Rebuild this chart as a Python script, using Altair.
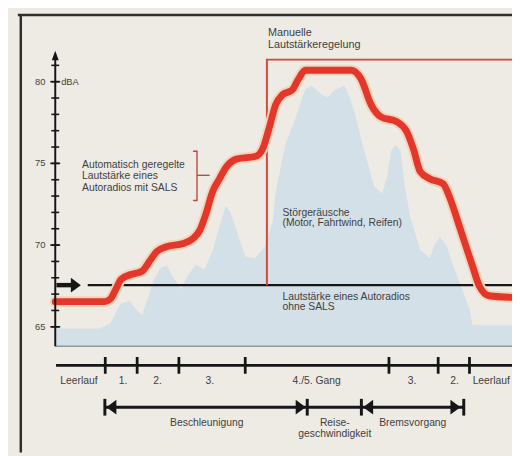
import altair as alt
import pandas as pd

# ---------------- data (time in arbitrary units, level in dBA) ----------------
sals_t = [0, 12.5, 14, 15.4, 16.7, 19.2, 22, 24.2, 25.75, 28.25, 32.5, 35, 36.7, 38.25, 40, 41.7,
          43.5, 46, 51, 52.7, 54.25, 56, 57.7, 60.2, 61.75, 63.5, 75.2, 77.7, 80.2, 82.7, 86.75,
          89.25, 91, 92.7, 95.2, 98.5, 100.2, 102.7, 106, 107.7, 110.2, 116]
sals_v = [66.54, 66.54, 66.7, 67.3, 67.9, 68.2, 68.4, 69.1, 69.6, 69.9, 70.1, 70.4, 70.9, 71.9, 73.3,
          74.05, 74.8, 75.26, 75.44, 75.9, 77.1, 78.6, 79.2, 79.5, 80.15, 80.7, 80.7, 80.15, 78.6,
          77.85, 77.55, 76.95, 75.85, 74.5, 74.05, 73.75, 72.9, 71.1, 68.7, 67.5, 66.9, 66.8]

noise_t = [0, 11, 14, 16.5, 18.75, 20.5, 22, 23.5, 25, 26.75, 28.3, 30, 32, 33.75, 35.8, 37.9, 40,
           41.75, 43.3, 44.5, 45.75, 48.25, 50.75, 53.25, 55.25, 56, 58.5, 61, 63.5, 65.2, 67.7,
           69.25, 71, 73.5, 74.75, 76, 78.5, 81, 83, 84.25, 85.25, 86.4, 87.7, 88.75, 90.2, 92.7,
           95.2, 96.25, 97.7, 99.3, 101, 102.7, 105.2, 106, 116]
noise_v = [64.9, 64.9, 65.2, 66.4, 66.6, 66.1, 65.7, 66.7, 67.9, 68.6, 68.75, 68.0, 67.3, 68.2, 68.8,
           68.5, 69.7, 71.2, 72.4, 72.0, 71.1, 69.3, 69.2, 69.9, 71.5, 73.3, 76.2, 77.75, 79.55,
           79.75, 79.2, 79.05, 79.5, 79.75, 79.05, 78.15, 75.75, 73.6, 73.15, 74.2, 75.75, 76.15,
           75.75, 73.6, 71.7, 69.7, 69.2, 70.0, 70.5, 70.0, 68.8, 67.7, 66.1, 65.1, 65.1]
noise_floor = 63.81

manual_t = [53.75, 53.75, 116]
manual_v = [67.55, 81.35, 81.35]

ohne_sals_v = 67.55
ohne_sals_start = 8.25
marker_arrow = [0.3, 6.5]          # left arrow marking the fixed radio level

t_end = 116
y_major = [65, 70, 75, 80]
y_minor = list(range(65, 82))
y_top = 81.9

gear_bounds = [12.7, 20.8, 31.4, 48.25, 84.75, 97.25, 105.2]
gear_labels = ["Leerlauf", "1.", "2.", "3.", "4./5. Gang", "3.", "2.", "Leerlauf"]
gear_label_t = [6, 17.25, 26, 39.25, 66.4, 90.6, 101.4, 106]
gear_label_align = ["center"] * 7 + ["left"]

phase_bounds = [12.6, 64, 77.75, 103.75]
phase_left_tips = [13.0, 78.2]
phase_right_tips = [63.6, 102.9]
phase_text = ["Beschleunigung", "Reise-", "geschwindigkeit", "Bremsvorgang"]
phase_text_t = [38.5, 71, 71, 90.8]
phase_text_row = [0, 0, 1, 0]

annot_text = ["Automatisch geregelte", "Lautstärke eines", "Autoradios mit SALS",
              "Störgeräusche", "(Motor, Fahrtwind, Reifen)",
              "Lautstärke eines Autoradios", "ohne SALS"]
annot_t = [6.8, 6.8, 6.8, 57.7, 57.7, 57.7, 57.7]
annot_v = [74.90, 74.20, 73.51, 71.96, 71.33, 66.81, 66.19]

manual_text = ["Manuelle", "Lautstärkeregelung"]
manual_text_t = [54, 54]
manual_text_v = [82.97, 82.25]

bracket_t = [35.0, 36.0, 36.0, 35.0]
bracket_v = [75.74, 75.74, 72.73, 72.73]
bracket_mid = [36.0, 39.2, 74.27]

# ---------------- layout ----------------
W, H = 512, 448
X0 = 48.0          # pixel of t = 0
PX_T = 4.0
Y80 = 71.3         # pixel of 80 dBA
PX_DB = 16.6
xs = alt.Scale(domain=[-X0 / PX_T, (W - X0) / PX_T], nice=False, zero=False)
ys = alt.Scale(domain=[80 - (H - Y80) / PX_DB, 80 + Y80 / PX_DB], nice=False, zero=False)

FONT = "Liberation Sans"
TXT = "#3f3f3f"
BG = "#eeebe4"
RED = "#e2372a"

def X(f="t"):
    return alt.X(f"{f}:Q", scale=xs, axis=None)

def Y(f="v"):
    return alt.Y(f"{f}:Q", scale=ys, axis=None)

one = pd.DataFrame({"a": [0]})

# frame
frame_top = alt.Chart(one).mark_rule(color="#2e2e2e", strokeWidth=2.5).encode(
    x=alt.value(10), x2=alt.value(W), y=alt.value(3.5))
frame_left = alt.Chart(one).mark_rule(color="#2e2e2e", strokeWidth=2.5).encode(
    x=alt.value(13), y=alt.value(3.5), y2=alt.value(H))

# noise
noise_df = pd.DataFrame({"t": noise_t, "v": noise_v, "b": noise_floor})
noise = alt.Chart(noise_df).mark_area(color="#d4e0e7", interpolate="linear").encode(
    x=X(), y=Y(), y2=alt.Y2("b:Q"))
floor = alt.Chart(pd.DataFrame({"t": [0], "t2": [t_end], "v": [noise_floor]})).mark_rule(
    color="#8e989e", strokeWidth=1.5).encode(x=X(), x2="t2:Q", y=Y())

# ohne SALS line and marker arrow
ohne = alt.Chart(pd.DataFrame({"t": [ohne_sals_start], "t2": [t_end], "v": [ohne_sals_v]})).mark_rule(
    color="#161616", strokeWidth=2.5).encode(x=X(), x2="t2:Q", y=Y())
arr_line = alt.Chart(pd.DataFrame({"t": [marker_arrow[0]], "t2": [marker_arrow[1] - 2],
                                   "v": [ohne_sals_v]})).mark_rule(
    color="#161616", strokeWidth=4.5).encode(x=X(), x2="t2:Q", y=Y())
RIGHT_HEAD = "M-1.35,-1L0,0L-1.35,1Z"
LEFT_HEAD = "M1.35,-1L0,0L1.35,1Z"
arr_head = alt.Chart(pd.DataFrame({"t": [marker_arrow[1]], "v": [ohne_sals_v]})).mark_point(
    shape=RIGHT_HEAD, filled=True, size=225, color="#161616", opacity=1, strokeWidth=0).encode(
    x=X(), y=Y())

# manual volume
man_df = pd.DataFrame({"t": manual_t, "v": manual_v, "i": range(len(manual_t))})
manual = alt.Chart(man_df).mark_line(color="#d8463a", strokeWidth=2).encode(
    x=X(), y=Y(), order="i:Q")

# SALS
sals_df = pd.DataFrame({"t": sals_t, "v": sals_v})
sals_halo = alt.Chart(sals_df).mark_line(color="#f6d3bb", strokeWidth=11, interpolate="monotone",
                                         strokeCap="round").encode(x=X(), y=Y())
sals = alt.Chart(sals_df).mark_line(color=RED, strokeWidth=7, interpolate="monotone",
                                    strokeCap="round").encode(x=X(), y=Y())

# y axis
axis_line = alt.Chart(pd.DataFrame({"t": [0], "v": [noise_floor], "v2": [y_top - 0.3]})).mark_rule(
    color="#161616", strokeWidth=2).encode(x=X(), y=Y(), y2="v2:Q")
axis_head = alt.Chart(pd.DataFrame({"t": [0], "v": [y_top]})).mark_point(
    shape="M-1,2.8L0,0L1,2.8Z", filled=True, size=49, color="#161616", opacity=1,
    strokeWidth=0).encode(x=X(), y=Y())
minor_df = pd.DataFrame({"t": 0, "v": y_minor})
minor_ticks = alt.Chart(minor_df).mark_rule(color="#161616", strokeWidth=1.6, xOffset=-4,
                                            x2Offset=4).encode(x=X(), x2="t:Q", y=Y())
major_df = pd.DataFrame({"t": 0, "v": y_major, "lab": [str(v) for v in y_major]})
major_ticks = alt.Chart(major_df).mark_rule(color="#161616", strokeWidth=1.6, xOffset=-5,
                                            x2Offset=5).encode(x=X(), x2="t:Q", y=Y())
major_labels = alt.Chart(major_df).mark_text(align="right", baseline="middle", dx=-10, font=FONT,
                                             fontSize=9.5, color=TXT).encode(
    x=X(), y=Y(), text="lab:N")
unit = alt.Chart(pd.DataFrame({"t": [0], "v": [80], "lab": ["dBA"]})).mark_text(
    align="left", baseline="middle", dx=6, font=FONT, fontSize=9.5, color=TXT).encode(
    x=X(), y=Y(), text="lab:N")

# annotations
ann_df = pd.DataFrame({"t": annot_t, "v": annot_v, "s": annot_text})
ann = alt.Chart(ann_df).mark_text(align="left", baseline="middle", font=FONT, fontSize=10.5,
                                  color=TXT).encode(x=X(), y=Y(), text="s:N")
man_txt = alt.Chart(pd.DataFrame({"t": manual_text_t, "v": manual_text_v, "s": manual_text})).mark_text(
    align="left", baseline="middle", font=FONT, fontSize=11, color=TXT).encode(
    x=X(), y=Y(), text="s:N")
br_df = pd.DataFrame({"t": bracket_t, "v": bracket_v, "i": range(4)})
bracket = alt.Chart(br_df).mark_line(color="#b54c3c", strokeWidth=1.4).encode(
    x=X(), y=Y(), order="i:Q")
bracket_tick = alt.Chart(pd.DataFrame({"t": [bracket_mid[0]], "t2": [bracket_mid[1]],
                                       "v": [bracket_mid[2]]})).mark_rule(
    color="#b54c3c", strokeWidth=1.4).encode(x=X(), x2="t2:Q", y=Y())

# gear row
GEAR_Y = 359.5
gear_line = alt.Chart(pd.DataFrame({"t": [0.2], "t2": [t_end]})).mark_rule(
    color="#161616", strokeWidth=3).encode(x=X(), x2="t2:Q", y=alt.value(GEAR_Y))
gear_ticks = alt.Chart(pd.DataFrame({"t": gear_bounds})).mark_rule(
    color="#161616", strokeWidth=2.8).encode(x=X(), y=alt.value(GEAR_Y - 8.5), y2=alt.value(GEAR_Y + 8.5))
gl_df = pd.DataFrame({"t": gear_label_t, "s": gear_labels, "al": gear_label_align})
gear_txt_c = alt.Chart(gl_df[gl_df.al == "center"]).mark_text(
    align="center", baseline="middle", font=FONT, fontSize=10.5, color=TXT).encode(
    x=X(), y=alt.value(GEAR_Y + 16), text="s:N")
gear_txt_l = alt.Chart(gl_df[gl_df.al == "left"]).mark_text(
    align="left", baseline="middle", font=FONT, fontSize=10.5, color=TXT).encode(
    x=X(), y=alt.value(GEAR_Y + 16), text="s:N")

# phase row
PH_Y = 402
phase_line = alt.Chart(pd.DataFrame({"t": [phase_bounds[0]], "t2": [phase_bounds[-1]]})).mark_rule(
    color="#161616", strokeWidth=3).encode(x=X(), x2="t2:Q", y=alt.value(PH_Y))
phase_bars = alt.Chart(pd.DataFrame({"t": phase_bounds})).mark_rule(
    color="#161616", strokeWidth=3).encode(x=X(), y=alt.value(PH_Y - 8.5), y2=alt.value(PH_Y + 8.5))
ph_left = alt.Chart(pd.DataFrame({"t": phase_left_tips})).mark_point(
    shape=LEFT_HEAD, filled=True, size=225, color="#161616", opacity=1, strokeWidth=0).encode(
    x=X(), y=alt.value(PH_Y))
ph_right = alt.Chart(pd.DataFrame({"t": phase_right_tips})).mark_point(
    shape=RIGHT_HEAD, filled=True, size=225, color="#161616", opacity=1, strokeWidth=0).encode(
    x=X(), y=alt.value(PH_Y))
pt_df = pd.DataFrame({"t": phase_text_t, "s": phase_text, "r": phase_text_row})
ph_txt0 = alt.Chart(pt_df[pt_df.r == 0]).mark_text(
    align="center", baseline="middle", font=FONT, fontSize=10.5, color=TXT).encode(
    x=X(), y=alt.value(PH_Y + 16), text="s:N")
ph_txt1 = alt.Chart(pt_df[pt_df.r == 1]).mark_text(
    align="center", baseline="middle", font=FONT, fontSize=10.5, color=TXT).encode(
    x=X(), y=alt.value(PH_Y + 27), text="s:N")

chart = alt.layer(
    frame_top, frame_left, noise, floor, ohne, arr_line, arr_head, manual,
    sals_halo, sals, axis_line, axis_head, minor_ticks, major_ticks, major_labels, unit,
    ann, man_txt, bracket, bracket_tick,
    gear_line, gear_ticks, gear_txt_c, gear_txt_l,
    phase_line, phase_bars, ph_left, ph_right, ph_txt0, ph_txt1,
).properties(
    width=W, height=H, autosize=alt.AutoSizeParams(type="none"), padding=0, background=BG
).configure_view(stroke=None)

chart.save("out.html", embed_options={"renderer": "svg", "actions": False})
